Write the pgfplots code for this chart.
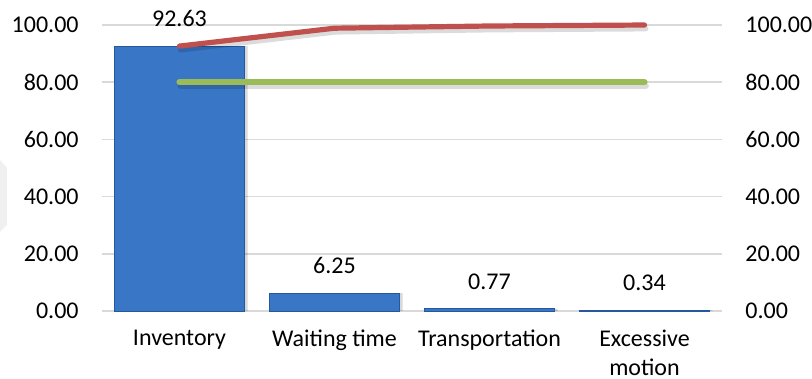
\documentclass[border=0pt]{standalone}
\usepackage{fontspec}
\setmainfont{Carlito}
\usepackage{pgfplots}
\usepackage{pgfplotstable}
\pgfplotsset{compat=1.18}

\definecolor{barblue}{RGB}{58,118,198}
\definecolor{bardark}{RGB}{38,88,158}
\definecolor{barlight}{RGB}{96,152,222}
\definecolor{cumred}{RGB}{192,80,77}
\definecolor{refgreen}{RGB}{155,187,89}
\definecolor{gridgray}{RGB}{217,217,217}

% horizontal bevel-like shading for the bars
\pgfdeclarehorizontalshading{barshade}{100bp}{%
  color(0bp)=(bardark); color(5bp)=(barlight); color(14bp)=(barblue);
  color(90bp)=(barblue); color(100bp)=(bardark)}

% waste category, share in percent, cumulative share, 80 % reference
\pgfplotstableread{
x waste cum ref
0 92.63 92.63 80
1 6.25 98.88 80
2 0.77 99.65 80
3 0.34 99.99 80
}\paretodata

\pgfplotsset{
  paretobase/.style={
    at={(0,0)}, anchor=south west,
    scale only axis, width=310pt, height=143pt,
    xmin=-0.5, xmax=3.5, ymin=0, ymax=100,
    ytick={0,20,...,100},
    yticklabel={\pgfmathprintnumber[fixed,fixed zerofill,precision=2]{\tick}},
    /pgf/number format/assume math mode=true,
    axis line style={draw=none},
    major tick length=0pt,
    yticklabel style={inner sep=0pt},
    yticklabel shift=11.5pt,
    clip=false,
  },
}

\begin{document}
\begin{tikzpicture}[font=\fontsize{12}{14.2}\selectfont]
\useasboundingbox (-51pt,-34pt) rectangle (355pt,155.5pt);
\fill[gray!12] (-51pt,75.5pt) -- (-47.5pt,71.5pt) -- (-47.5pt,43pt) -- (-51pt,39.5pt) -- cycle;

\begin{axis}[
  paretobase,
  ymajorgrids,
  major grid style={gridgray, line width=0.8pt},
  xtick={0,1,2,3},
  xticklabels={Inventory, Waiting time, Transportation, {Excessive\\motion}},
  xticklabel style={align=center, inner sep=0pt, anchor=north},
  xticklabel shift=9.5pt,
]
  % bar shadows
  \addplot[ybar, bar width=65pt, bar shift=1.6pt, fill=black, opacity=0.15, draw=none]
    table[x=x, y=waste] {\paretodata};
  % bars
  \addplot[ybar, bar width=65pt, bar shift=0pt, shading=barshade, draw=bardark, line width=0.4pt,
    nodes near coords,
    point meta=y,
    nodes near coords style={/pgf/number format/.cd, fixed, fixed zerofill, precision=2,
      assume math mode=true, /tikz/.cd,
      anchor=south, inner sep=0pt, yshift=9.5pt, text=black, opacity=1}]
    table[x=x, y=waste] {\paretodata};
  % line shadows
  \addplot[black, opacity=0.14, line width=2.8pt, line cap=round, line join=round, yshift=-1.8pt, xshift=0.6pt]
    table[x=x, y=cum] {\paretodata};
  \addplot[black, opacity=0.14, line width=3.2pt, line cap=round, line join=round, yshift=-1.8pt, xshift=0.6pt]
    table[x=x, y=ref] {\paretodata};
  % cumulative share and 80 % reference
  \addplot[cumred, line width=2.6pt, line cap=round, line join=round]
    table[x=x, y=cum] {\paretodata};
  \addplot[refgreen, line width=3.1pt, line cap=round, line join=round]
    table[x=x, y=ref] {\paretodata};
\end{axis}

\begin{axis}[
  paretobase,
  axis x line=none,
  axis y line*=right,
]
\end{axis}
\end{tikzpicture}
\end{document}
